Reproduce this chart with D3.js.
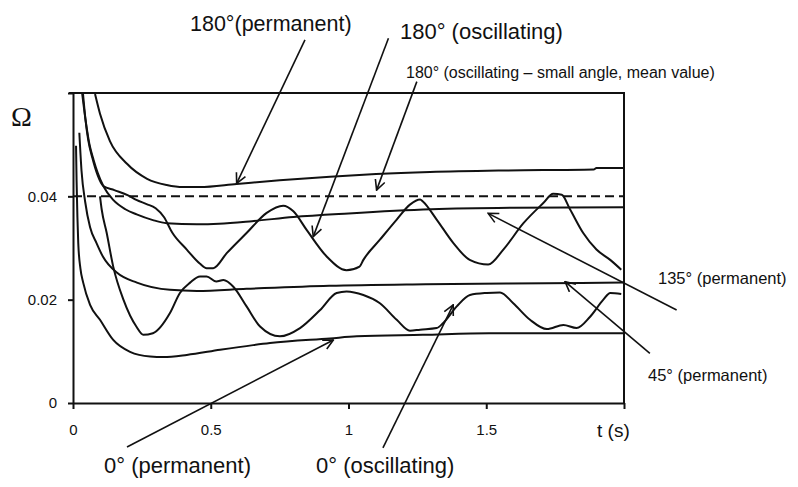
<!DOCTYPE html>
<html>
<head>
<meta charset="utf-8">
<script src="https://cdn.jsdelivr.net/npm/d3@7"></script>
<style>
  body { margin: 0; background: #fff; }
  svg { display: block; font-family: "Liberation Sans", Arial, sans-serif; }
</style>
</head>
<body>
<svg id="chart" width="798" height="487"></svg>
<script>
var perm180 = [[0.08,0.0598],[0.098,0.056],[0.134,0.0507],[0.196,0.0463],[0.269,0.0434],[0.34,0.0422],
  [0.40,0.0418],[0.46,0.0418],[0.594,0.0424],[0.75,0.0431],[0.933,0.0438],[1.1,0.0443],[1.296,0.0447],
  [1.56,0.045],[1.89,0.0452],[1.9,0.0455],[2.0,0.0455]];

var osc180 = [[0.036,0.06],[0.045,0.055],[0.055,0.051],[0.07,0.0475],[0.09,0.044],[0.11,0.042],
  [0.15,0.0412],[0.2,0.0402],[0.23,0.0393],[0.267,0.0385],[0.3,0.0377],[0.33,0.036],[0.36,0.033],
  [0.413,0.0297],[0.46,0.027],[0.485,0.0261],[0.509,0.0261],[0.558,0.029],[0.63,0.0329],[0.703,0.0368],
  [0.763,0.0382],[0.8,0.0371],[0.848,0.0335],[0.92,0.0284],[0.993,0.0257],[1.04,0.0264],[1.054,0.0277],
  [1.114,0.0316],[1.175,0.0355],[1.223,0.0384],[1.26,0.0394],[1.27,0.039],[1.32,0.0355],[1.38,0.031],
  [1.44,0.0277],[1.507,0.0268],[1.562,0.0297],[1.635,0.0348],[1.707,0.0387],[1.743,0.0405],
  [1.774,0.0403],[1.804,0.0375],[1.852,0.0329],[1.90,0.0297],[1.95,0.0277],[1.99,0.0258]];

var perm135 = [[0.033,0.06],[0.045,0.055],[0.06,0.05],[0.075,0.047],[0.09,0.0445],[0.11,0.042],
  [0.146,0.0393],[0.19,0.0375],[0.231,0.0365],[0.29,0.0354],[0.34,0.0348],[0.45,0.0346],[0.53,0.0347],
  [0.65,0.0352],[0.8,0.036],[1.0,0.0367],[1.3,0.0375],[1.6,0.0378],[2.0,0.0379]];

var perm45 = [[0.023,0.0523],[0.031,0.0449],[0.044,0.039],[0.062,0.034],[0.085,0.031],[0.109,0.0283],
  [0.16,0.0252],[0.232,0.0233],[0.352,0.0219],[0.45,0.0217],[0.63,0.0221],[0.93,0.0227],[1.28,0.023],
  [1.72,0.0232],[2.0,0.0233]];

var perm0 = [[0.011,0.0498],[0.013,0.043],[0.016,0.036],[0.019,0.031],[0.027,0.026],[0.037,0.0233],
  [0.062,0.019],[0.098,0.0161],[0.146,0.0122],[0.207,0.0099],[0.28,0.009],[0.328,0.0089],[0.413,0.0093],
  [0.534,0.0103],[0.654,0.0112],[0.715,0.0116],[0.933,0.0125],[1.03,0.0129],[1.27,0.0132],
  [1.51,0.0135],[2.0,0.0135]];

var osc0 = [[0.098,0.04],[0.104,0.0375],[0.122,0.033],[0.146,0.0264],[0.183,0.02],[0.231,0.0147],
  [0.255,0.0132],[0.29,0.0135],[0.352,0.0174],[0.388,0.0213],[0.425,0.0233],[0.461,0.0245],
  [0.485,0.0245],[0.52,0.0235],[0.546,0.0238],[0.582,0.0225],[0.63,0.0187],[0.679,0.0148],
  [0.751,0.0129],[0.824,0.0145],[0.897,0.018],[0.957,0.0213],[0.993,0.0216],[1.054,0.0209],
  [1.114,0.0193],[1.175,0.0161],[1.223,0.014],[1.26,0.0142],[1.32,0.0145],[1.344,0.0155],
  [1.393,0.0187],[1.441,0.0209],[1.502,0.0213],[1.55,0.0214],[1.598,0.0193],[1.659,0.0161],
  [1.72,0.0143],[1.78,0.0151],[1.828,0.0145],[1.877,0.0167],[1.925,0.02],[1.95,0.0213],[1.99,0.0211]];

var meanSmall = [[0,0.04],[2,0.04]];

var xTicks = [0, 0.5, 1, 1.5, 2];
var xTickLabels = ["0", "0.5", "1", "1.5", ""];
var yTicks = [0, 0.02, 0.04, 0.06];
var yTickLabels = ["0", "0.02", "0.04", ""];

// arrows : tail -> tip, in data units
var arrows = [
  {from: [0.842, 0.0703], to: [0.594, 0.0425]},
  {from: [1.145, 0.0706], to: [0.872, 0.0322]},
  {from: [1.248, 0.0622], to: [1.102, 0.0412]},
  {from: [2.191, 0.0180], to: [1.507, 0.0367]},
  {from: [2.094, 0.0096], to: [1.786, 0.0235]},
  {from: [0.196, -0.0085], to: [0.945, 0.0122]},
  {from: [1.125, -0.0087], to: [1.380, 0.0190]}
];

var labels = [
  {text: "180°(permanent)", x: 190, y: 31, size: 21.5},
  {text: "180° (oscillating)", x: 400, y: 39, size: 22},
  {text: "180° (oscillating – small angle, mean value)", x: 406, y: 78, size: 16},
  {text: "135° (permanent)", x: 658, y: 284, size: 16.5},
  {text: "45° (permanent)", x: 648, y: 381, size: 16.5},
  {text: "0° (permanent)", x: 104, y: 473, size: 22},
  {text: "0° (oscillating)", x: 316, y: 473, size: 22}
];

function drawChart() {
  var svg = d3.select("#chart");
  var mLeft = 73, mRight = 624, mTop = 93, mBottom = 403;

  var x = d3.scaleLinear().domain([0, 2]).range([mLeft, mRight]);
  var y = d3.scaleLinear().domain([0, 0.06]).range([mBottom, mTop]);

  var line = d3.line()
    .x(function(d) { return x(d[0]); })
    .y(function(d) { return y(d[1]); })
    .curve(d3.curveMonotoneX);

  // frame (top + right)
  svg.append("path")
    .attr("d", "M" + (mLeft - 4) + "," + mTop + "H" + mRight + "V" + mBottom)
    .attr("fill", "none").attr("stroke", "#111").attr("stroke-width", 2);

  // axes
  var xAxis = svg.append("g")
    .attr("transform", "translate(0," + mBottom + ")")
    .call(d3.axisBottom(x).tickValues(xTicks).tickSize(6).tickSizeOuter(0)
      .tickFormat(function(d, i) { return xTickLabels[i]; }));
  var yAxis = svg.append("g")
    .attr("transform", "translate(" + mLeft + ",0)")
    .call(d3.axisLeft(y).tickValues(yTicks).tickSize(5).tickSizeOuter(0)
      .tickFormat(function(d, i) { return yTickLabels[i]; }));

  [xAxis, yAxis].forEach(function(a) {
    a.attr("font-size", null).attr("font-family", null);
    a.select(".domain").attr("stroke", "#111").attr("stroke-width", 2);
    a.selectAll(".tick line").attr("stroke", "#111").attr("stroke-width", 2);
    a.selectAll(".tick text").attr("fill", "#111").style("font-size", "15px");
  });
  xAxis.selectAll(".tick text").attr("dy", null).attr("y", 32);
  yAxis.selectAll(".tick text").attr("x", -16);

  // dashed mean line
  svg.append("path")
    .datum(meanSmall)
    .attr("d", line)
    .attr("fill", "none").attr("stroke", "#111").attr("stroke-width", 2)
    .attr("stroke-dasharray", "9,5");

  // curves
  [perm180, osc180, perm135, perm45, perm0, osc0].forEach(function(s) {
    svg.append("path")
      .datum(s)
      .attr("d", line)
      .attr("fill", "none")
      .attr("stroke", "#111")
      .attr("stroke-width", 2)
      .attr("stroke-linejoin", "round");
  });

  // arrow marker (open V)
  svg.append("defs").append("marker")
    .attr("id", "arr")
    .attr("viewBox", "0 0 12 12")
    .attr("refX", 11).attr("refY", 6)
    .attr("markerWidth", 12).attr("markerHeight", 12)
    .attr("markerUnits", "userSpaceOnUse")
    .attr("orient", "auto")
    .append("path")
    .attr("d", "M1,1 L11,6 L1,11")
    .attr("fill", "none").attr("stroke", "#111").attr("stroke-width", 1.6);

  svg.selectAll(".arrow")
    .data(arrows)
    .enter().append("line")
    .attr("class", "arrow")
    .attr("x1", function(d) { return x(d.from[0]); })
    .attr("y1", function(d) { return y(d.from[1]); })
    .attr("x2", function(d) { return x(d.to[0]); })
    .attr("y2", function(d) { return y(d.to[1]); })
    .attr("stroke", "#111").attr("stroke-width", 1.6)
    .attr("marker-end", "url(#arr)");

  // annotation texts
  svg.selectAll(".lab")
    .data(labels)
    .enter().append("text")
    .attr("class", "lab")
    .attr("x", function(d) { return d.x; })
    .attr("y", function(d) { return d.y; })
    .attr("font-size", function(d) { return d.size; })
    .attr("fill", "#111")
    .text(function(d) { return d.text; });

  // axis titles
  svg.append("text")
    .attr("x", 11).attr("y", 126)
    .attr("font-family", "Liberation Serif, Times New Roman, serif")
    .attr("font-size", 28)
    .attr("fill", "#111")
    .text("Ω");
  svg.append("text")
    .attr("x", 597).attr("y", 437)
    .attr("font-size", 19)
    .attr("fill", "#111")
    .text("t (s)");
}

drawChart();
</script>
</body>
</html>
